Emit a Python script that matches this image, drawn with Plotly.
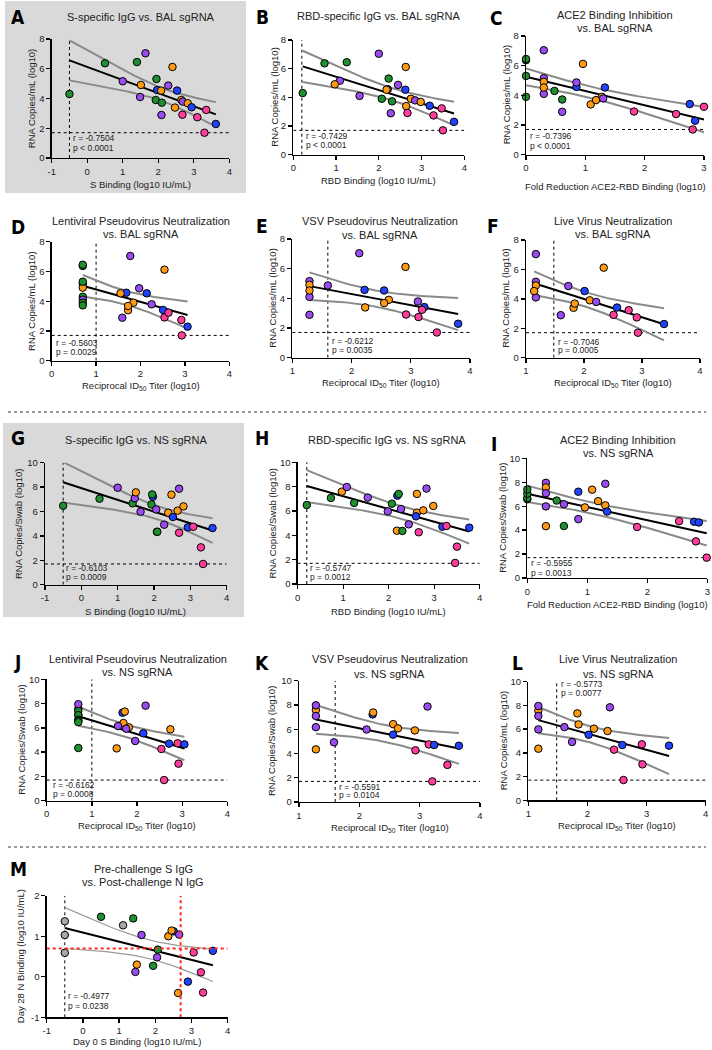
import numpy as np
import plotly.graph_objects as go

W, H = 712, 1050
FONT = "Liberation Sans, Arial, Helvetica, sans-serif"
NARROW = "Liberation Sans Narrow, DejaVu Sans Condensed, Arial Narrow, sans-serif"
TXT = "#222222"

GROUP_COLORS = {"g": "#1f8f2f", "p": "#9a4cf0", "o": "#ff9a14", "b": "#1f42ff",
                "k": "#ff3d9b", "x": "#a8a8a8"}

LOD_Y = 1.7

# ---------------- data ----------------
A_x = [-0.5, 0.5, 1.4, 1.64, 1.0, 1.51, 1.49, 1.95, 1.97, 2.08, 1.93, 2.10, 2.09, 2.28, 2.40, 2.53, 2.47, 2.65, 2.69, 2.83, 2.68, 2.94, 3.10, 3.35, 3.30, 3.62]
A_y = [4.30, 6.37, 6.45, 7.04, 5.16, 4.91, 4.10, 5.31, 4.57, 4.53, 3.90, 3.72, 2.89, 4.87, 6.12, 4.53, 3.39, 3.90, 3.79, 3.68, 2.91, 3.41, 2.74, 3.23, 1.70, 2.29]
A_g = ["g", "g", "g", "p", "p", "o", "p", "g", "b", "o", "g", "g", "p", "p", "o", "b", "o", "o", "p", "o", "k", "b", "k", "k", "k", "b"]

B_x = [0.22, 0.73, 1.25, 2.00, 1.09, 0.97, 1.55, 2.23, 2.21, 2.18, 2.07, 2.31, 2.28, 2.45, 2.63, 2.62, 2.64, 2.75, 2.85, 2.98, 2.67, 3.19, 3.28, 3.47, 3.50, 3.76]
B_y = [4.30, 6.37, 6.45, 7.04, 5.16, 4.91, 4.10, 5.31, 4.57, 4.53, 3.90, 3.72, 2.89, 4.87, 6.12, 4.53, 3.39, 3.90, 3.79, 3.68, 2.91, 3.41, 2.74, 3.23, 1.70, 2.29]
B_g = ["g", "g", "g", "p", "p", "o", "p", "g", "b", "o", "g", "g", "p", "p", "o", "b", "o", "o", "p", "o", "k", "b", "k", "k", "k", "b"]

C_x = [0.48, 0.0, 0.0, 0.30, 0.30, 0.30, 0.30, 0.0, 0.85, 0.30, 0.0, 0.61, 0.61, 0.85, 0.96, 1.33, 1.09, 1.28, 1.30, 1.18, 1.82, 2.76, 2.53, 3.0, 2.81, 2.85]
C_y = [4.30, 6.37, 6.45, 7.04, 5.16, 4.91, 4.10, 5.31, 4.57, 4.53, 3.90, 3.72, 2.89, 4.87, 6.12, 4.53, 3.39, 3.90, 3.79, 3.68, 2.91, 3.41, 2.74, 3.23, 1.70, 2.29]
C_g = ["g", "g", "g", "p", "p", "o", "p", "g", "b", "o", "g", "g", "p", "p", "o", "b", "o", "o", "p", "o", "k", "b", "k", "k", "k", "b"]

D_x = [0.7, 0.7, 0.7, 1.77, 0.7, 0.7, 0.7, 0.7, 1.68, 1.55, 0.7, 0.7, 1.59, 1.97, 2.54, 2.14, 1.72, 1.84, 2.25, 1.72, 2.54, 2.51, 2.92, 2.63, 2.93, 3.06]
D_y = [4.30, 6.37, 6.45, 7.04, 5.16, 4.91, 4.10, 5.31, 4.57, 4.53, 3.90, 3.72, 2.89, 4.87, 6.12, 4.53, 3.39, 3.90, 3.79, 3.68, 2.91, 3.41, 2.74, 3.23, 1.70, 2.29]
D_g = ["g", "g", "g", "p", "p", "o", "p", "g", "b", "o", "g", "g", "p", "p", "o", "b", "o", "o", "p", "o", "k", "b", "k", "k", "k", "b"]

E_x = [2.13, 1.29, 1.29, 1.29, 2.22, 1.29, 1.29, 1.60, 2.91, 2.55, 2.23, 2.63, 3.12, 2.55, 2.92, 3.23, 3.13, 3.19, 3.44, 3.80]
E_y = [7.04, 5.16, 4.91, 4.10, 4.57, 4.53, 2.89, 4.87, 6.12, 4.53, 3.39, 3.90, 3.79, 3.68, 2.91, 3.41, 2.74, 3.23, 1.70, 2.29]
E_g = ["p", "p", "o", "p", "b", "o", "p", "p", "o", "b", "o", "o", "p", "o", "k", "b", "k", "k", "k", "b"]

F_x = [1.17, 1.17, 1.17, 1.17, 1.14, 1.60, 1.73, 2.34, 2.01, 1.82, 2.10, 2.21, 1.84, 2.51, 2.57, 2.91, 2.77, 2.93, 3.38]
F_y = [7.04, 5.16, 4.91, 4.10, 4.53, 2.89, 4.87, 6.12, 4.53, 3.39, 3.90, 3.79, 3.68, 2.91, 3.41, 2.74, 3.23, 1.70, 2.29]
F_g = ["p", "p", "o", "p", "o", "p", "p", "o", "b", "o", "o", "p", "o", "k", "b", "k", "k", "k", "b"]

G_x = [-0.50, 0.50, 1.00, 1.41, 1.47, 1.50, 1.63, 1.97, 1.95, 1.93, 2.06, 2.08, 2.09, 2.28, 2.39, 2.48, 2.52, 2.65, 2.69, 2.81, 2.69, 2.93, 3.08, 3.29, 3.35, 3.61]
G_y = [6.47, 7.05, 7.95, 6.67, 7.08, 7.57, 5.98, 7.21, 7.40, 6.58, 6.17, 4.33, 4.34, 4.92, 5.90, 7.38, 5.55, 6.07, 7.87, 6.42, 4.26, 4.70, 4.75, 3.06, 1.70, 4.64]
G_g = ["g", "g", "p", "g", "p", "o", "p", "b", "g", "g", "p", "o", "g", "p", "o", "o", "b", "o", "p", "o", "k", "b", "k", "k", "k", "b"]

H_x = [0.20, 0.73, 0.97, 1.08, 1.24, 1.54, 1.98, 2.07, 2.19, 2.22, 2.27, 2.18, 2.30, 2.44, 2.62, 2.62, 2.60, 2.76, 2.83, 2.98, 2.66, 3.18, 3.27, 3.50, 3.46, 3.77]
H_y = [6.49, 7.07, 7.59, 7.97, 6.66, 7.10, 5.97, 6.60, 7.26, 7.40, 6.16, 4.38, 4.36, 4.90, 7.40, 5.86, 5.56, 6.05, 7.84, 6.41, 4.25, 4.71, 4.77, 3.07, 1.73, 4.63]
H_g = ["g", "g", "o", "p", "g", "p", "p", "g", "b", "g", "p", "o", "g", "p", "o", "o", "b", "o", "p", "o", "k", "b", "k", "k", "k", "b"]

I_x = [0.0, 0.0, 0.0, 0.0, 0.49, 0.61, 0.31, 0.31, 0.31, 0.31, 0.31, 0.61, 0.85, 0.85, 1.08, 0.96, 1.18, 1.30, 1.30, 1.33, 1.83, 2.53, 2.78, 2.86, 2.81, 2.99]
I_y = [6.58, 6.67, 7.05, 7.40, 6.47, 4.34, 7.95, 7.57, 7.08, 5.98, 4.33, 6.17, 4.92, 7.21, 7.38, 5.90, 6.42, 7.87, 6.07, 5.55, 4.26, 4.75, 4.70, 4.64, 3.06, 1.70]
I_g = ["g", "g", "g", "g", "g", "g", "p", "o", "p", "p", "o", "p", "p", "b", "o", "o", "o", "p", "o", "b", "k", "k", "b", "b", "k", "k"]

J_x = [0.7, 0.7, 0.7, 0.7, 0.7, 0.7, 0.7, 0.7, 0.7, 1.68, 1.73, 1.70, 1.58, 1.82, 1.76, 2.19, 2.14, 1.96, 1.55, 2.74, 2.71, 2.54, 2.90, 3.05, 2.92, 2.60]
J_y = [7.57, 7.08, 7.40, 7.05, 6.67, 6.58, 6.47, 4.34, 7.95, 7.25, 7.34, 6.40, 6.15, 6.04, 5.93, 7.83, 5.55, 4.92, 4.31, 5.88, 4.70, 4.26, 4.73, 4.64, 3.05, 1.70]
J_g = ["o", "p", "g", "g", "g", "g", "g", "g", "p", "b", "o", "o", "p", "o", "p", "p", "b", "p", "o", "o", "b", "k", "k", "b", "k", "k"]

K_x = [1.28, 1.28, 1.28, 1.28, 1.28, 1.58, 2.22, 2.23, 2.12, 2.56, 2.64, 2.56, 2.92, 3.13, 2.93, 3.15, 3.24, 3.65, 3.46, 3.21]
K_y = [7.58, 7.09, 7.97, 6.17, 4.34, 4.92, 7.22, 7.38, 5.98, 6.42, 6.07, 5.55, 5.90, 7.87, 4.26, 4.75, 4.70, 4.64, 3.06, 1.70]
K_g = ["o", "p", "p", "p", "o", "p", "b", "o", "p", "o", "o", "b", "o", "p", "k", "k", "b", "b", "k", "k"]

L_x = [1.17, 1.17, 1.17, 1.17, 1.17, 1.61, 1.74, 1.83, 1.85, 2.11, 2.02, 2.38, 2.34, 2.59, 2.45, 2.92, 2.93, 2.61, 3.38]
L_y = [7.56, 7.95, 7.11, 5.98, 4.35, 6.17, 4.92, 7.33, 6.40, 6.04, 5.53, 7.84, 5.84, 4.66, 4.27, 4.72, 3.03, 1.71, 4.61]
L_g = ["o", "p", "p", "p", "o", "p", "p", "o", "o", "o", "b", "p", "o", "b", "k", "k", "k", "k", "b"]

M_x = [-0.5, -0.5, -0.5, 0.50, 1.11, 1.39, 1.62, 1.49, 1.45, 1.94, 2.07, 2.05, 2.36, 2.51, 2.45, 2.66, 2.63, 3.06, 3.59, 3.26, 2.90, 3.32]
M_y = [1.37, 1.03, 0.59, 1.48, 1.27, 1.44, 1.03, 0.30, 0.12, 0.27, 0.67, 0.48, 1.00, 1.12, 1.14, 1.04, -0.40, 0.60, 0.64, 0.11, -0.12, -0.39]
M_g = ["x", "x", "x", "g", "x", "g", "p", "o", "p", "g", "g", "p", "o", "b", "o", "p", "o", "k", "b", "k", "b", "k"]
M_cut_x = 2.7
M_cut_y = 0.7

STATS = {
    "A": ("r = -0.7504", "p < 0.0001"), "B": ("r = -0.7429", "p < 0.0001"),
    "C": ("r = -0.7396", "p < 0.0001"), "D": ("r = -0.5603", "p = 0.0029"),
    "E": ("r = -0.6212", "p = 0.0035"), "F": ("r = -0.7046", "p = 0.0005"),
    "G": ("r = -0.6103", "p = 0.0009"), "H": ("r = -0.5747", "p = 0.0012"),
    "I": ("r = -0.5955", "p = 0.0013"), "J": ("r = -0.6162", "p = 0.0008"),
    "K": ("r = -0.5591", "p = 0.0104"), "L": ("r = -0.5773", "p = 0.0077"),
    "M": ("r = -0.4977", "p = 0.0238"),
}

YL_BAL = "RNA Copies/mL (log10)"
YL_NS = "RNA Copies/Swab (log10)"
XL_S = "S Binding (log10 IU/mL)"
XL_RBD = "RBD Binding (log10 IU/mL)"
XL_ACE = "Fold Reduction ACE2-RBD Binding (log10)"
XL_ID = "Reciprocal ID<sub>50</sub> Titer (log10)"

# ---------------- layout spec (pixel positions) ----------------
panels = [
    dict(L="A", x=A_x, y=A_y, g=A_g, xd=(51.7, 229.3), yd=(39, 158), xr=(-1, 4), yr=(0, 8), ydt=2,
         title=["S-specific IgG vs. BAL sgRNA"], tx=141, ty=[16.7], lp=(18, 17),
         xl=XL_S, xly=184.3, yl=YL_BAL, ylx=31.7, vx=-0.5, hy=LOD_Y, sp=(-0.45, 1.32, 0.70)),
    dict(L="B", x=B_x, y=B_y, g=B_g, xd=(293.3, 464.3), yd=(40, 154.7), xr=(0, 4), yr=(0, 8), ydt=2,
         title=["RBD-specific IgG vs. BAL sgRNA"], tx=378.7, ty=[16.3], lp=(262.3, 17),
         xl=XL_RBD, xly=180, yl=YL_BAL, ylx=274.3, vx=0.2, hy=LOD_Y, sp=(0.25, 1.30, 0.65)),
    dict(L="C", x=C_x, y=C_y, g=C_g, xd=(526, 704), yd=(36, 154.7), xr=(0, 3), yr=(0, 8), ydt=2,
         title=["ACE2 Binding Inhibition", "vs. BAL sgRNA"], tx=615.3, ty=[15, 27.8], lp=(496.7, 17.5),
         xl=XL_ACE, xly=186.7, yl=YL_BAL, ylx=506, vx=None, hy=LOD_Y, sp=(0.03, 1.24, 0.60)),
    dict(L="D", x=D_x, y=D_y, g=D_g, xd=(51.7, 229.3), yd=(241.7, 360.7), xr=(0, 4), yr=(0, 8), ydt=2,
         title=["Lentiviral Pseudovirus Neutralization", "vs. BAL sgRNA"], tx=140.8, ty=[221.3, 234],
         lp=(18.3, 227), xl=XL_ID, xly=386.5, yl=YL_BAL, ylx=31.7, vx=1.0, hy=LOD_Y, sp=(0.05, 1.21, 0.58)),
    dict(L="E", x=E_x, y=E_y, g=E_g, xd=(292.3, 470), yd=(239, 357.7), xr=(1, 4), yr=(0, 8), ydt=2,
         title=["VSV Pseudovirus Neutralization", "vs. BAL sgRNA"], tx=379.7, ty=[221, 234.5],
         lp=(261.7, 226), xl=XL_ID, xly=382.5, yl=YL_BAL, ylx=272.3, vx=1.6, hy=LOD_Y, sp=(1.63, 1.12, 0.54)),
    dict(L="F", x=F_x, y=F_y, g=F_g, xd=(526, 700), yd=(240, 357.7), xr=(1, 4), yr=(0, 8), ydt=2,
         title=["Live Virus Neutralization", "vs. BAL sgRNA"], tx=612.5, ty=[221, 234],
         lp=(493.3, 226), xl=XL_ID, xly=382.5, yl=YL_BAL, ylx=506, vx=1.48, hy=LOD_Y, sp=(1.51, 1.04, 0.50)),
    dict(L="G", x=G_x, y=G_y, g=G_g, xd=(45, 226.7), yd=(462.7, 584.7), xr=(-1, 4), yr=(0, 10), ydt=2,
         title=["S-specific IgG vs. NS sgRNA"], tx=136, ty=[440], lp=(18, 438),
         xl=XL_S, xly=611, yl=YL_NS, ylx=18.3, vx=-0.5, hy=LOD_Y, sp=(-0.47, 1.34, 0.60)),
    dict(L="H", x=H_x, y=H_y, g=H_g, xd=(297.7, 479.7), yd=(462.3, 584), xr=(0, 4), yr=(0, 10), ydt=2,
         title=["RBD-specific IgG vs. NS sgRNA"], tx=386.7, ty=[440], lp=(262, 438),
         xl=XL_RBD, xly=611, yl=YL_NS, ylx=272.3, vx=0.2, hy=LOD_Y, sp=(0.23, 1.34, 0.58)),
    dict(L="I", x=I_x, y=I_y, g=I_g, xd=(527.3, 707.3), yd=(458.3, 578), xr=(0, 3), yr=(0, 10), ydt=2,
         title=["ACE2 Binding Inhibition", "vs. NS sgRNA"], tx=618.3, ty=[440, 453], lp=(494, 444),
         xl=XL_ACE, xly=604.3, yl=YL_NS, ylx=501.7, vx=None, hy=LOD_Y, sp=(0.03, 1.23, 0.45)),
    dict(L="J", x=J_x, y=J_y, g=J_g, xd=(46.7, 227.3), yd=(679.3, 800.7), xr=(0, 4), yr=(0, 10), ydt=2,
         title=["Lentiviral Pseudovirus Neutralization", "vs. NS sgRNA"], tx=137.5, ty=[659, 672],
         lp=(17, 662), xl=XL_ID, xly=826, yl=YL_NS, ylx=20.7, vx=1.0, hy=LOD_Y, sp=(0.09, 1.29, 0.52)),
    dict(L="K", x=K_x, y=K_y, g=K_g, xd=(299, 480), yd=(680.7, 802), xr=(1, 4), yr=(0, 10), ydt=2,
         title=["VSV Pseudovirus Neutralization", "vs. NS sgRNA"], tx=389.5, ty=[659.3, 674],
         lp=(261.7, 663), xl=XL_ID, xly=827.5, yl=YL_NS, ylx=271.7, vx=1.6, hy=LOD_Y, sp=(1.63, 1.21, 0.55)),
    dict(L="L", x=L_x, y=L_y, g=L_g, xd=(528.3, 705.7), yd=(681.7, 800.3), xr=(1, 4), yr=(0, 10), ydt=2,
         title=["Live Virus Neutralization", "vs. NS sgRNA"], tx=618, ty=[659.3, 674],
         lp=(517, 663), xl=XL_ID, xly=826, yl=YL_BAL, ylx=503.3, vx=1.48, hy=LOD_Y, sp=(1.52, 9.78, 9.05)),
    dict(L="M", x=M_x, y=M_y, g=M_g, xd=(46.7, 227.7), yd=(895.7, 1017.3), xr=(-1, 4), yr=(-1, 2), ydt=1,
         title=["Pre-challenge S IgG", "vs. Post-challenge N IgG"], tx=143, ty=[869, 882.3],
         lp=(18, 869), xl="Day 0 S Binding (log10 IU/mL)", xly=1041.5,
         yl="Day 28 N Binding (log10 IU/mL)", ylx=20.7, vx=-0.5, hy=None, sp=(-0.47, -0.48, -0.71)),
]


def fx(p):
    return p / W


def fy(p):
    return 1 - p / H


def tcrit(df):
    z = 1.959964
    return z + (z**3 + z) / (4 * df) + (5 * z**5 + 16 * z**3 + 3 * z) / (96 * df**2)


def fit_ci(x, y):
    x = np.asarray(x, float)
    y = np.asarray(y, float)
    n = len(x)
    b, a = np.polyfit(x, y, 1)
    xs = np.linspace(x.min(), x.max(), 80)
    yh = a + b * xs
    s = np.sqrt(np.sum((y - (a + b * x)) ** 2) / (n - 2))
    sxx = np.sum((x - x.mean()) ** 2)
    half = tcrit(n - 2) * s * np.sqrt(1 / n + (xs - x.mean()) ** 2 / sxx)
    return xs, yh, yh - half, yh + half


fig = go.Figure()
shapes = []
annotations = []
layout = {}

# grey highlight boxes behind A and G
for (x0, y0, x1, y1) in [(5, 1, 246, 193), (3, 423, 244, 617)]:
    shapes.append(dict(type="rect", xref="paper", yref="paper", x0=fx(x0), x1=fx(x1),
                       y0=fy(y1), y1=fy(y0), fillcolor="#d9d9d9", line=dict(width=0), layer="below"))

# dotted row separators
for yy in [412, 847]:
    shapes.append(dict(type="line", xref="paper", yref="paper", x0=fx(8), x1=fx(706),
                       y0=fy(yy), y1=fy(yy), line=dict(color="#9a9a9a", width=2, dash="dot")))

for i, P in enumerate(panels, start=1):
    xa = "x" if i == 1 else f"x{i}"
    ya = "y" if i == 1 else f"y{i}"
    xkey = "xaxis" if i == 1 else f"xaxis{i}"
    ykey = "yaxis" if i == 1 else f"yaxis{i}"

    xt = list(range(int(P["xr"][0]), int(P["xr"][1]) + 1))
    yt = list(range(int(P["yr"][0]), int(P["yr"][1]) + 1, P["ydt"]))
    common = dict(showline=True, linecolor="black", linewidth=1.3, ticks="outside", ticklen=4,
                  tickwidth=1.3, tickcolor="black", showgrid=False, zeroline=False,
                  tickfont=dict(family=FONT, size=9.5, color=TXT), automargin=False, fixedrange=True)
    layout[xkey] = dict(common, domain=[fx(P["xd"][0]), fx(P["xd"][1])], range=list(P["xr"]),
                        anchor=ya, tickmode="array", tickvals=xt, ticktext=[str(v) for v in xt])
    layout[ykey] = dict(common, domain=[fy(P["yd"][1]), fy(P["yd"][0])], range=list(P["yr"]),
                        anchor=xa, tickmode="array", tickvals=yt, ticktext=[str(v) for v in yt])

    # reference lines
    if P["hy"] is not None:
        shapes.append(dict(type="line", xref=xa, yref=ya, x0=P["xr"][0], x1=P["xr"][1],
                           y0=P["hy"], y1=P["hy"], line=dict(color="black", width=1, dash="dot"),
                           layer="below"))
    if P["vx"] is not None:
        shapes.append(dict(type="line", xref=xa, yref=ya, x0=P["vx"], x1=P["vx"],
                           y0=P["yr"][0], y1=P["yr"][1], line=dict(color="black", width=1, dash="dot"),
                           layer="below"))
    if P["L"] == "M":
        shapes.append(dict(type="line", xref=xa, yref=ya, x0=M_cut_x, x1=M_cut_x,
                           y0=P["yr"][0], y1=P["yr"][1], line=dict(color="#ff2a1f", width=2, dash="dot")))
        shapes.append(dict(type="line", xref=xa, yref=ya, x0=P["xr"][0], x1=P["xr"][1],
                           y0=M_cut_y, y1=M_cut_y, line=dict(color="#ff2a1f", width=2, dash="dot")))

    # regression + 95% CI
    xs, yh, lo, hi = fit_ci(P["x"], P["y"])
    ciw = 1.2 if P["L"] == "M" else 2
    cic = "#9a9a9a" if P["L"] == "M" else "#8a8a8a"
    for band in (lo, hi):
        fig.add_trace(go.Scatter(x=xs, y=band, mode="lines", line=dict(color=cic, width=ciw),
                                 xaxis=xa, yaxis=ya, showlegend=False, hoverinfo="skip"))
    fig.add_trace(go.Scatter(x=xs, y=yh, mode="lines", line=dict(color="black", width=2),
                             xaxis=xa, yaxis=ya, showlegend=False, hoverinfo="skip"))
    # points
    fig.add_trace(go.Scatter(x=P["x"], y=P["y"], mode="markers", xaxis=xa, yaxis=ya,
                             marker=dict(size=7.5, color=[GROUP_COLORS[c] for c in P["g"]],
                                         line=dict(color="black", width=1)),
                             cliponaxis=False, showlegend=False))

    # texts
    annotations.append(dict(text=f"<b>{P['L']}</b>", x=fx(P["lp"][0]), y=fy(P["lp"][1]),
                            xref="paper", yref="paper", showarrow=False, xanchor="center",
                            yanchor="middle", font=dict(family=NARROW, size=19, color="black")))
    for line, ty in zip(P["title"], P["ty"]):
        annotations.append(dict(text=line, x=fx(P["tx"]), y=fy(ty), xref="paper", yref="paper",
                                showarrow=False, xanchor="center", yanchor="middle",
                                font=dict(family=FONT, size=11, color=TXT)))
    annotations.append(dict(text=P["xl"], x=fx((P["xd"][0] + P["xd"][1]) / 2), y=fy(P["xly"]),
                            xref="paper", yref="paper", showarrow=False, xanchor="center",
                            yanchor="middle", font=dict(family=FONT, size=9.5, color=TXT)))
    annotations.append(dict(text=P["yl"], x=fx(P["ylx"]), y=fy((P["yd"][0] + P["yd"][1]) / 2),
                            xref="paper", yref="paper", showarrow=False, xanchor="center",
                            yanchor="middle", textangle=-90, font=dict(family=FONT, size=9.5, color=TXT)))
    rtxt, ptxt = STATS[P["L"]]
    for t, yy in ((rtxt, P["sp"][1]), (ptxt, P["sp"][2])):
        annotations.append(dict(text=t, x=P["sp"][0], y=yy, xref=xa, yref=ya, showarrow=False,
                                xanchor="left", yanchor="middle",
                                font=dict(family=FONT, size=8.5, color=TXT)))

fig.update_layout(width=W, height=H, margin=dict(l=0, r=0, t=0, b=0, pad=0),
                  paper_bgcolor="white", plot_bgcolor="rgba(0,0,0,0)",
                  shapes=shapes, annotations=annotations, showlegend=False, **layout)

fig.write_html("out.html", config={"displayModeBar": False, "staticPlot": True},
               post_script="document.body.style.margin='0';document.body.style.padding='0';"
                           "document.body.style.overflow='hidden';")
